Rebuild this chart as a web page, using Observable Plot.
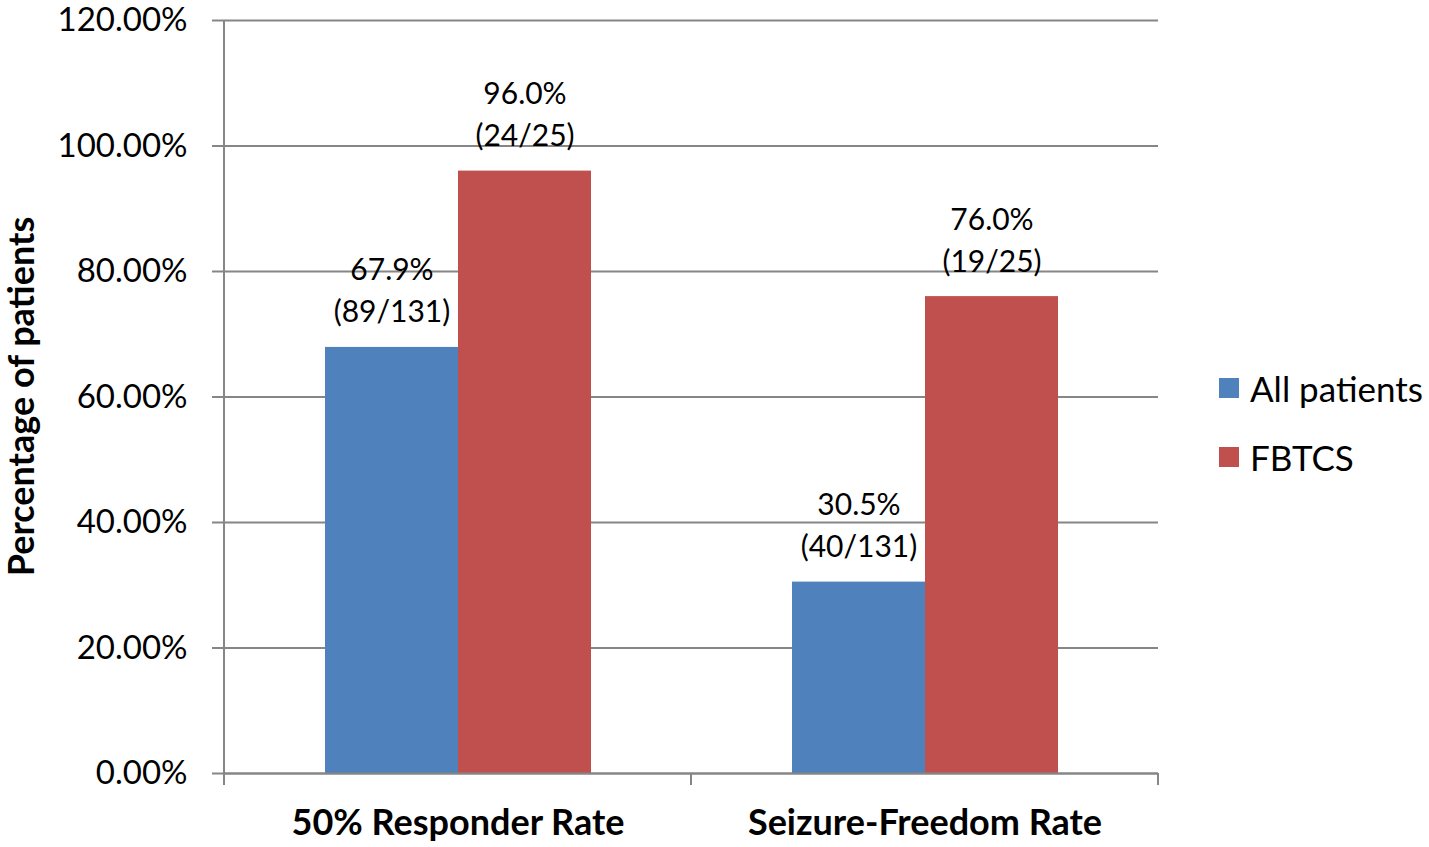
<!DOCTYPE html>
<html><head><meta charset="utf-8">
<script src="https://cdn.jsdelivr.net/npm/d3@7"></script>
<script src="https://cdn.jsdelivr.net/npm/@observablehq/plot@0.6"></script>
<style>
html,body{margin:0;padding:0;background:#fff;}
#wrap{position:relative;width:1429px;height:847px;font-family:Lato,sans-serif;}
#legend{position:absolute;left:1219px;top:369px;font-size:35px;color:#000;}
#legend .item{display:flex;align-items:center;height:38px;margin-bottom:31px;}
#legend .sw{width:20px;height:20px;margin-right:11px;}
</style></head>
<body><div id="wrap"><div id="legend"></div></div>
<script>
const categories = ["50% Responder Rate", "Seizure-Freedom Rate"];
const series = ["All patients", "FBTCS"];
const allPatients = [0.679, 0.305];
const fbtcs = [0.96, 0.76];
const allCounts = ["89/131", "40/131"];
const fbtcsCounts = ["24/25", "19/25"];
const yTicks = [0, 0.2, 0.4, 0.6, 0.8, 1.0, 1.2];
const colors = ["#4F81BD", "#C0504D"];

const data = [];
categories.forEach((c, i) => {
  data.push({category: c, series: series[0], value: allPatients[i], count: allCounts[i]});
  data.push({category: c, series: series[1], value: fbtcs[i], count: fbtcsCounts[i]});
});
const pct1 = d3.format(".1%");
const grey = "#868686";

const plot = Plot.plot({
  width: 1429, height: 847,
  marginLeft: 224, marginRight: 271, marginTop: 20, marginBottom: 74,
  style: {fontFamily: "Lato, sans-serif", background: "white", overflow: "visible"},
  fx: {domain: categories, padding: 0, label: null},
  x: {domain: series, paddingInner: 0, paddingOuter: 0.7556, axis: null},
  y: {domain: [0, 1.2], ticks: yTicks, tickFormat: d3.format(".2%"), label: null},
  color: {domain: series, range: colors},
  marks: [
    Plot.gridY(yTicks, {stroke: grey, strokeOpacity: 1, strokeWidth: 2}),
    Plot.barY(data, {fx: "category", x: "series", y: "value", fill: "series"}),
    Plot.ruleY([0], {stroke: grey, strokeWidth: 2}),
    Plot.axisY(yTicks, {tickSize: 12, tickPadding: 25, stroke: grey, strokeWidth: 2, fill: "black", fontSize: 33, tickFormat: d3.format(".2%"), label: null}),
    Plot.axisFx({anchor: "bottom", tickSize: 0, tickPadding: 36, fontSize: 36, fontWeight: "bold", fill: "black", label: null}),
    Plot.text(data, {fx: "category", x: "series", y: "value",
      text: d => pct1(d.value) + "\n(" + d.count + ")",
      lineAnchor: "bottom", lineHeight: 1.4, dy: -25, fontSize: 30, fill: "black"})
  ]
});
document.getElementById("wrap").prepend(plot);

// axis line and category separator ticks using the plot's scales
const svg = d3.select(plot);
const yS = plot.scale("y");
const fxS = plot.scale("fx");
const y0 = yS.apply(0), yTop = yS.apply(1.2);
const left = fxS.apply(categories[0]);
svg.append("line").attr("x1", left).attr("x2", left).attr("y1", yTop).attr("y2", y0 + 12)
  .attr("stroke", grey).attr("stroke-width", 2);
categories.forEach(c => {
  const xe = fxS.apply(c) + fxS.bandwidth;
  svg.append("line").attr("x1", xe).attr("x2", xe).attr("y1", y0).attr("y2", y0 + 12)
    .attr("stroke", grey).attr("stroke-width", 2);
});
// y-axis title
svg.append("text").attr("transform", `translate(34,${(y0 + yTop) / 2}) rotate(-90)`)
  .attr("text-anchor", "middle").attr("font-size", 36).attr("font-weight", "bold")
  .attr("font-family", "Lato, sans-serif").text("Percentage of patients");

// legend
const lg = document.getElementById("legend");
series.forEach((s, i) => {
  const it = document.createElement("div"); it.className = "item";
  const sw = document.createElement("div"); sw.className = "sw"; sw.style.background = colors[i];
  const t = document.createElement("span"); t.textContent = s;
  it.append(sw, t); lg.append(it);
});
</script></body></html>
